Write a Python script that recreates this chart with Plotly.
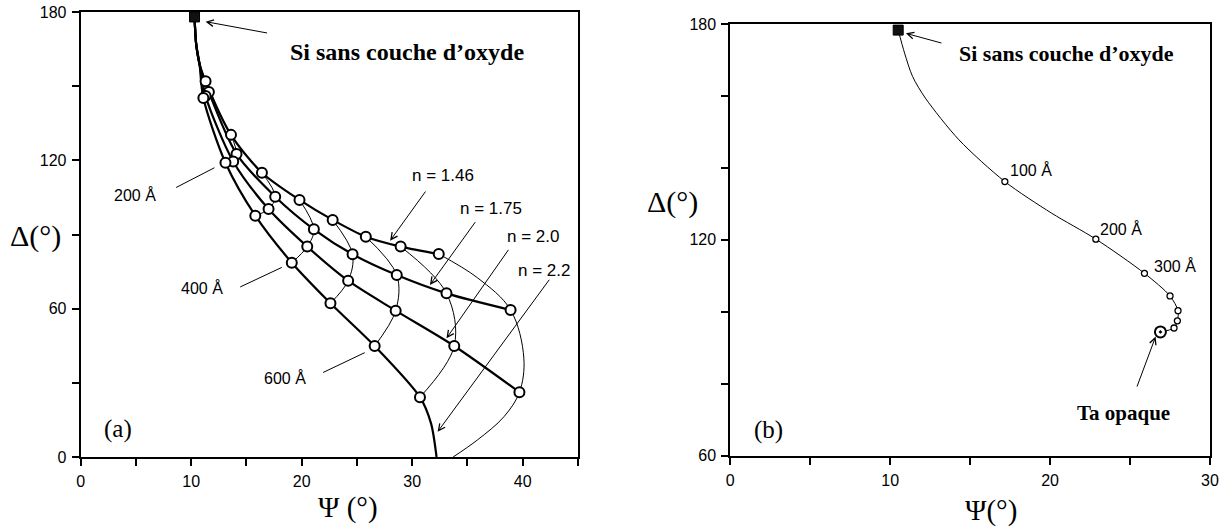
import plotly.graph_objects as go

# ---------------- Panel (a): Si + transparent film, four indices ----------------
N_LABELS = ["n = 1.46", "n = 1.75", "n = 2.0", "n = 2.2"]
THICKNESS_A = [100, 200, 300, 400, 500, 600, 700, 800]  # Å

SI_PSI_A = 10.3
SI_DELTA_A = 178.0
# read points of the common stem between the bare-Si point and 100 Å
STEM_PSI = [10.45, 10.75]
STEM_DELTA = [167.0, 159.0]

PSI_N146 = [11.3, 13.6, 16.4, 19.8, 22.8, 25.8, 28.95, 32.4]
DELTA_N146 = [152.0, 130.3, 115.0, 104.0, 95.9, 89.1, 85.1, 82.1]
PSI_N175 = [11.6, 14.1, 17.6, 21.1, 24.6, 28.6, 33.1, 38.9]
DELTA_N175 = [147.6, 122.6, 105.3, 92.1, 82.0, 73.6, 66.2, 59.5]
PSI_N200 = [11.3, 13.8, 17.0, 20.5, 24.2, 28.5, 33.8, 39.7]
DELTA_N200 = [146.0, 119.5, 100.3, 85.1, 71.3, 59.2, 44.9, 26.2]
PSI_N220 = [11.1, 13.1, 15.8, 19.1, 22.6, 26.6, 30.7]
DELTA_N220 = [145.2, 119.0, 97.6, 78.6, 62.2, 44.9, 24.2]
# n = 2.2 trajectory continues down to Δ = 0 (read points)
PSI_N220_TAIL = [31.7, 32.2]
DELTA_N220_TAIL = [13.6, 0.0]
# extra read points of the thin 800 Å line
PSI_800_MID = [35.9]
DELTA_800_MID = [72.5]
PSI_800_BULGE = [40.1]
DELTA_800_BULGE = [40.0]
PSI_800_TAIL = [38.3, 35.9, 33.7]
DELTA_800_TAIL = [16.3, 6.9, 0.0]

# ---------------- Panel (b): Ta film on Si ----------------
SI_PSI_B = 10.5
SI_DELTA_B = 178.3
THICKNESS_B = [100, 200, 300, 400, 500, 600, 700]  # Å
PSI_B = [17.17, 22.86, 25.9, 27.5, 28.0, 27.96, 27.75]
DELTA_B = [136.2, 120.2, 110.7, 104.4, 100.3, 97.5, 95.5]
# read points along the curve between Si and 100 Å, and between 100 and 200 Å
PSI_B_PATH1 = [10.9, 11.4, 12.2, 14.3]
DELTA_B_PATH1 = [171.9, 165.4, 159.4, 147.8]
PSI_B_PATH2 = [20.1]
DELTA_B_PATH2 = [127.4]
TA_PSI = 26.9
TA_DELTA = 94.4

# tick labels
XTICKS_A = list(range(0, 50, 5))
XTEXT_A = ["0", "", "10", "", "20", "", "30", "", "40", ""]
YTICKS_A = list(range(0, 210, 30))
YTEXT_A = ["0", "", "60", "", "120", "", "180"]
XTICKS_B = list(range(0, 35, 5))
XTEXT_B = ["0", "", "10", "", "20", "", "30"]
YTICKS_B = list(range(60, 200, 20))
YTEXT_B = ["60", "", "", "120", "", "", "180"]

BLACK = "black"
fig = go.Figure()

n_psi = [PSI_N146, PSI_N175, PSI_N200, PSI_N220]
n_delta = [DELTA_N146, DELTA_N175, DELTA_N200, DELTA_N220]

# thin iso-thickness lines
for i, t in enumerate(THICKNESS_A):
    xs, ys = [], []
    for k in range(4):
        if i < len(n_psi[k]):
            xs.append(n_psi[k][i])
            ys.append(n_delta[k][i])
    if t == 800:
        xs = [xs[0]] + PSI_800_MID + [xs[1]] + PSI_800_BULGE + [xs[2]] + PSI_800_TAIL
        ys = [ys[0]] + DELTA_800_MID + [ys[1]] + DELTA_800_BULGE + [ys[2]] + DELTA_800_TAIL
    fig.add_trace(go.Scatter(x=xs, y=ys, mode="lines",
                             line=dict(color=BLACK, width=1, shape="spline", smoothing=1.0),
                             xaxis="x", yaxis="y", hoverinfo="skip"))

# thick constant-index trajectories
for k in range(4):
    xs = [SI_PSI_A] + STEM_PSI + n_psi[k]
    ys = [SI_DELTA_A] + STEM_DELTA + n_delta[k]
    if k == 3:
        xs = xs + PSI_N220_TAIL
        ys = ys + DELTA_N220_TAIL
    fig.add_trace(go.Scatter(x=xs, y=ys, mode="lines", name=N_LABELS[k],
                             line=dict(color=BLACK, width=2.2, shape="spline", smoothing=0.8),
                             xaxis="x", yaxis="y", hoverinfo="skip"))

# markers at each thickness
for k in range(4):
    fig.add_trace(go.Scatter(x=n_psi[k], y=n_delta[k], mode="markers",
                             marker=dict(symbol="circle", size=10, color="white",
                                         line=dict(color=BLACK, width=2)),
                             xaxis="x", yaxis="y", hoverinfo="skip"))

# bare Si square (a)
fig.add_trace(go.Scatter(x=[SI_PSI_A], y=[SI_DELTA_A], mode="markers",
                         marker=dict(symbol="square", size=10, color="#111",
                                     line=dict(color=BLACK, width=1)),
                         xaxis="x", yaxis="y", hoverinfo="skip"))

# ---------- panel (b) ----------
curve_x = [SI_PSI_B] + PSI_B_PATH1 + [PSI_B[0]] + PSI_B_PATH2 + PSI_B[1:] + [TA_PSI]
curve_y = [SI_DELTA_B] + DELTA_B_PATH1 + [DELTA_B[0]] + DELTA_B_PATH2 + DELTA_B[1:] + [TA_DELTA]
fig.add_trace(go.Scatter(x=curve_x, y=curve_y, mode="lines",
                         line=dict(color=BLACK, width=1, shape="spline", smoothing=0.8),
                         xaxis="x2", yaxis="y2", hoverinfo="skip"))
fig.add_trace(go.Scatter(x=PSI_B, y=DELTA_B, mode="markers",
                         marker=dict(symbol="circle", size=6, color="white",
                                     line=dict(color=BLACK, width=1.3)),
                         xaxis="x2", yaxis="y2", hoverinfo="skip"))
fig.add_trace(go.Scatter(x=[TA_PSI], y=[TA_DELTA], mode="markers",
                         marker=dict(symbol="circle-dot", size=11, color="white",
                                     line=dict(color=BLACK, width=2)),
                         xaxis="x2", yaxis="y2", hoverinfo="skip"))
fig.add_trace(go.Scatter(x=[SI_PSI_B], y=[SI_DELTA_B], mode="markers",
                         marker=dict(symbol="square", size=10, color="#111",
                                     line=dict(color=BLACK, width=1)),
                         xaxis="x2", yaxis="y2", hoverinfo="skip"))

tickfont = dict(family="Arial, Liberation Sans, sans-serif", size=16, color=BLACK)
axis_common = dict(showline=True, mirror=True, linecolor=BLACK, linewidth=2,
                   ticks="outside", ticklen=7, tickwidth=1.5, tickcolor=BLACK,
                   showgrid=False, zeroline=False, tickfont=tickfont, fixedrange=True,
                   automargin=False, ticklabelstandoff=2)

fig.update_layout(
    template="none",
    width=1226, height=528,
    margin=dict(l=0, r=0, t=0, b=0, pad=0, autoexpand=False),
    paper_bgcolor="white", plot_bgcolor="white",
    showlegend=False,
    xaxis=dict(domain=[80.7 / 1226, 578 / 1226], range=[0, 45], anchor="y",
               tickmode="array", tickvals=XTICKS_A, ticktext=XTEXT_A, **axis_common),
    yaxis=dict(domain=[1 - 457 / 528, 1 - 12 / 528], range=[0, 180], anchor="x",
               tickmode="array", tickvals=YTICKS_A, ticktext=YTEXT_A, **axis_common),
    xaxis2=dict(domain=[730.3 / 1226, 1210 / 1226], range=[0, 30], anchor="y2",
                tickmode="array", tickvals=XTICKS_B, ticktext=XTEXT_B, **axis_common),
    yaxis2=dict(domain=[1 - 455.7 / 528, 1 - 24 / 528], range=[60, 180], anchor="x2",
                tickmode="array", tickvals=YTICKS_B, ticktext=YTEXT_B, **axis_common),
)

SERIF = "Liberation Serif, Times New Roman, serif"
SANS = "Arial, Liberation Sans, sans-serif"
ann = []


def text(x, y, s, size, family, xr="x", yr="y", xanchor="center", bold=False):
    if bold:
        s = "<b>" + s + "</b>"
    ann.append(dict(x=x, y=y, xref=xr, yref=yr, text=s, showarrow=False,
                    xanchor=xanchor, yanchor="middle",
                    font=dict(family=family, size=size, color=BLACK)))


def arrow(x0, y0, x1, y1, head=5, xr="x", yr="y"):
    ann.append(dict(x=x1, y=y1, ax=x0, ay=y0, xref=xr, yref=yr, axref=xr, ayref=yr,
                    text="", showarrow=True, arrowhead=head, arrowsize=1.3,
                    arrowwidth=1, arrowcolor=BLACK, standoff=0, startstandoff=0))


# axis titles
text(35 / 1226, 1 - 236 / 528, "Δ(°)", 30, SERIF, "paper", "paper")
text(347.5 / 1226, 1 - 507 / 528, "Ψ (°)", 29, SERIF, "paper", "paper")
text(672.7 / 1226, 1 - 201.7 / 528, "Δ(°)", 30, SERIF, "paper", "paper")
text(991 / 1226, 1 - 510 / 528, "Ψ(°)", 29, SERIF, "paper", "paper")

# panel (a) annotations
text(29.5, 164.0, "Si sans couche d’oxyde", 24, SERIF, bold=True)
arrow(17.0, 171.4, 11.3, 176.1)
text(3.4, 11.3, "(a)", 25, SERIF)
text(32.8, 114.0, N_LABELS[0], 17, SANS)
text(37.1, 100.6, N_LABELS[1], 17, SANS)
text(40.9, 89.2, N_LABELS[2], 17, SANS)
text(41.95, 75.6, N_LABELS[3], 17, SANS)
arrow(31.3, 108.0, 28.0, 87.5)
arrow(35.8, 95.6, 31.6, 69.6)
arrow(38.8, 84.4, 33.1, 48.0)
arrow(42.5, 72.3, 32.3, 10.2)
text(4.9, 106.0, "200 Å", 16, SANS)
text(11.0, 68.5, "400 Å", 16, SANS)
text(18.5, 32.1, "600 Å", 16, SANS)
arrow(8.5, 108.7, 12.1, 117.0, head=0)
arrow(14.3, 68.5, 18.2, 76.7, head=0)
arrow(21.8, 33.9, 25.7, 42.2, head=0)

# panel (b) annotations
text(21.05, 171.8, "Si sans couche d’oxyde", 22, SERIF, "x2", "y2", bold=True)
arrow(13.3, 174.6, 10.98, 177.4, xr="x2", yr="y2")
text(17.35, 139.5, "100 Å", 16, SANS, "x2", "y2", xanchor="left")
text(23.0, 123.1, "200 Å", 16, SANS, "x2", "y2", xanchor="left")
text(26.4, 112.6, "300 Å", 16, SANS, "x2", "y2", xanchor="left")
text(24.6, 71.9, "Ta opaque", 21, SERIF, "x2", "y2", bold=True)
arrow(25.4, 78.8, 26.6, 93.1, xr="x2", yr="y2")
text(2.4, 67.2, "(b)", 25, SERIF, "x2", "y2")

fig.update_layout(annotations=ann)
fig.write_html("out.html", config={"displayModeBar": False},
               post_script="document.body.style.margin='0';document.body.style.overflow='hidden';")
